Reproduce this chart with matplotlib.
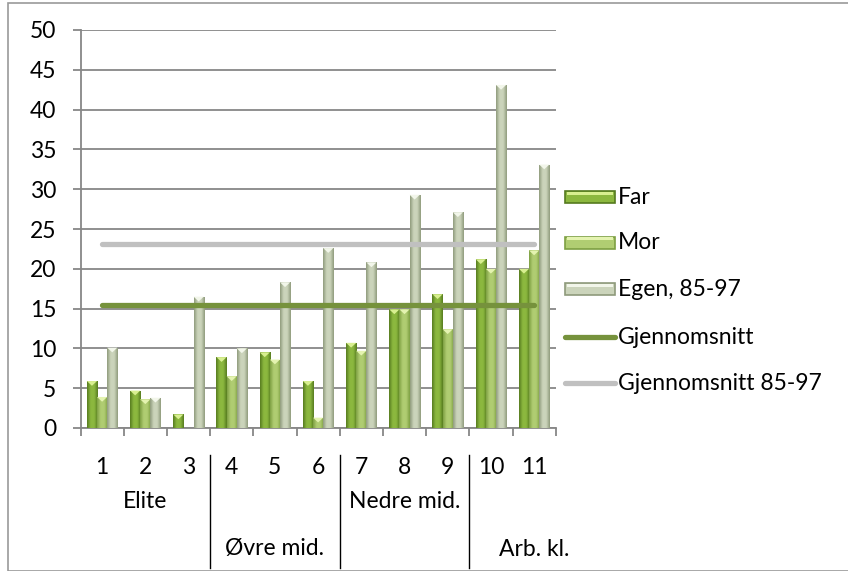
import matplotlib
matplotlib.use("Agg")
import matplotlib.pyplot as plt
import numpy as np
from matplotlib.patches import Rectangle
from matplotlib.lines import Line2D
from matplotlib.colors import LinearSegmentedColormap

categories = ["1", "2", "3", "4", "5", "6", "7", "8", "9", "10", "11"]
far = [5.9, 4.7, 1.7, 8.9, 9.5, 5.9, 10.7, 14.9, 16.8, 21.2, 20.0]
mor = [3.9, 3.6, 0.0, 6.5, 8.6, 1.3, 9.7, 14.9, 12.4, 20.0, 22.3]
egen = [10.1, 3.8, 16.5, 10.0, 18.3, 22.6, 20.8, 29.3, 27.1, 43.1, 33.1]
snitt = 15.4
snitt_8597 = 23.1
groups = ["Elite", "Øvre mid.", "Nedre mid.", "Arb. kl."]
group_pos = [2, 5, 8, 11]
group_row = [0, 1, 0, 1]
series_names = ["Far", "Mor", "Egen, 85-97", "Gjennomsnitt", "Gjennomsnitt 85-97"]

plt.rcParams['font.family'] = ['Lato', 'DejaVu Sans']
FS = 16.5

fig = plt.figure(figsize=(8.48, 5.71), dpi=100)
W, H = 848, 571
ax = fig.add_axes([80.5 / W, 1 - 428 / H, (555.7 - 80.5) / W, (428 - 30) / H])

x = np.arange(1, len(categories) + 1)
bw = 0.235

cols = {
    "far": ("#557a1f", "#8cb83f", "#d8ef90"),
    "mor": ("#7d9f42", "#b0cd72", "#e4f3b0"),
    "egen": ("#8e9a7b", "#cbd4bb", "#f2f6ea"),
}

def cyl_cmap(edge, mid):
    return LinearSegmentedColormap.from_list("c", [edge, mid, mid, edge], N=64)

grad = np.linspace(0, 1, 64).reshape(1, -1)
for vals, key, off in [(far, "far", -bw), (mor, "mor", 0), (egen, "egen", bw)]:
    edge, mid, top = cols[key]
    bars = ax.bar(x + off, vals, width=bw, color=mid, edgecolor="none", zorder=3)
    cm = cyl_cmap(edge, mid)
    for b in bars:
        h = b.get_height()
        if h <= 0:
            continue
        x0 = b.get_x()
        im = ax.imshow(grad, cmap=cm, aspect="auto", extent=[x0, x0 + bw, 0, h],
                       zorder=3.5, interpolation="bicubic")
        im.set_clip_path(b)
        cap = min(0.6, h)
        ax.fill([x0, x0 + bw, x0 + bw / 2], [h, h, h - cap], color=top, zorder=4, lw=0)

ax.plot([x[0], x[-1]], [snitt, snitt], color="#76923c", lw=3.8, solid_capstyle="round", zorder=5)
ax.plot([x[0], x[-1]], [snitt_8597, snitt_8597], color="#c0c0c0", lw=3.8, solid_capstyle="round", zorder=5)

ax.set_xlim(0.5, len(categories) + 0.5)
ax.set_ylim(0, 50)
ax.set_yticks(np.arange(0, 51, 5))
ax.yaxis.grid(True, color="#878787", lw=1.3, zorder=0)
ax.set_axisbelow(True)
for s in ["top", "right"]:
    ax.spines[s].set_visible(False)
for s in ["left", "bottom"]:
    ax.spines[s].set_color("#878787")
    ax.spines[s].set_linewidth(1.3)
ax.tick_params(axis="y", length=5.5, width=1.3, color="#878787", labelsize=FS, pad=12)
ax.set_xticks(np.arange(0.5, len(categories) + 1, 1))
ax.set_xticklabels([])
ax.tick_params(axis="x", length=5.5, width=1.3, color="#878787")

trans = ax.get_xaxis_transform()
for xi, c in zip(x, categories):
    ax.text(xi, -(467 - 428) / (428 - 30), c, transform=trans, ha="center", va="center", fontsize=FS)
for g, p, r in zip(groups, group_pos, group_row):
    yy = 502 if r == 0 else 549
    ax.text(p, -(yy - 428) / (428 - 30), g, transform=trans, ha="center", va="center", fontsize=FS)
for sep in [3.5, 6.5, 9.5]:
    ax.plot([sep, sep], [-(455 - 428) / 398, -(568 - 428) / 398], transform=trans,
            color="black", lw=1, clip_on=False)

# manual legend (pixel layout)
def fx(px):
    return px / W

def fy(py):
    return 1 - py / H

leg_y = [197, 242.5, 289, 337, 383]
kinds = [("rect", "far"), ("rect", "mor"), ("rect", "egen"),
         ("line", "#76923c"), ("line", "#c0c0c0")]
for name, yy, (kind, spec) in zip(series_names, leg_y, kinds):
    if kind == "rect":
        edge, mid, top = cols[spec]
        fig.add_artist(Rectangle((fx(565), fy(yy + 6)), fx(615) - fx(565), (12) / H,
                                 transform=fig.transFigure, facecolor=mid, edgecolor=edge, lw=1.2))
        fig.add_artist(Rectangle((fx(567), fy(yy - 2)), fx(613) - fx(567), 3 / H,
                                 transform=fig.transFigure, facecolor=top, edgecolor="none"))
    else:
        fig.add_artist(Line2D([fx(565), fx(615)], [fy(yy), fy(yy)], transform=fig.transFigure,
                              color=spec, lw=3.8, solid_capstyle="round"))
    fig.text(fx(618), fy(yy), name, ha="left", va="center", fontsize=FS)

fig.add_artist(Rectangle((8 / W, 0), 1.2, 1 - 3 / H, transform=fig.transFigure,
                         fill=False, edgecolor="#9a9a9a", lw=1.2))

fig.savefig("out.png", dpi=100)
